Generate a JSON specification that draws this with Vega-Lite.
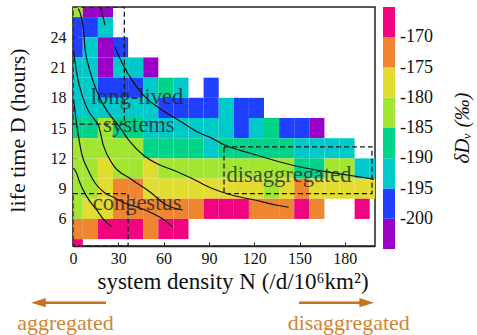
{
  "$schema": "https://vega.github.io/schema/vega-lite/v6.json",
  "width": 302,
  "height": 239,
  "autosize": "none",
  "padding": {"left": 73, "top": 7, "right": 102, "bottom": 89},
  "background": "white",
  "config": {
    "font": "Liberation Serif",
    "view": {"stroke": "#222", "strokeWidth": 1.5},
    "axis": {"labelFontSize": 16, "titleFontSize": 22, "titleFontWeight": "normal", "labelColor": "#111", "titleColor": "#111", "domainColor": "#222", "domainWidth": 1.5, "tickColor": "#222", "grid": false, "labelFlush": false, "labelOverlap": false}
  },
  "datasets": {
    "cells": [
      {"n":-3.5,"n2":6.5,"d":26,"d2":28,"v":-182.5},{"n":6.5,"n2":16.5,"d":26,"d2":28,"v":-202.5},{"n":16.5,"n2":26.5,"d":26,"d2":28,"v":-202.5},
      {"n":-3.5,"n2":6.5,"d":24,"d2":26,"v":-197.5},{"n":6.5,"n2":16.5,"d":24,"d2":26,"v":-197.5},{"n":16.5,"n2":26.5,"d":24,"d2":26,"v":-192.5},
      {"n":-3.5,"n2":6.5,"d":22,"d2":24,"v":-197.5},{"n":6.5,"n2":16.5,"d":22,"d2":24,"v":-192.5},{"n":16.5,"n2":26.5,"d":22,"d2":24,"v":-202.5},{"n":26.5,"n2":36.5,"d":22,"d2":24,"v":-197.5},
      {"n":-3.5,"n2":6.5,"d":20,"d2":22,"v":-192.5},{"n":6.5,"n2":16.5,"d":20,"d2":22,"v":-192.5},{"n":16.5,"n2":26.5,"d":20,"d2":22,"v":-202.5},{"n":26.5,"n2":36.5,"d":20,"d2":22,"v":-192.5},{"n":36.5,"n2":46.5,"d":20,"d2":22,"v":-192.5},{"n":46.5,"n2":56.5,"d":20,"d2":22,"v":-202.5},
      {"n":-3.5,"n2":6.5,"d":18,"d2":20,"v":-192.5},{"n":6.5,"n2":16.5,"d":18,"d2":20,"v":-192.5},{"n":16.5,"n2":26.5,"d":18,"d2":20,"v":-197.5},{"n":26.5,"n2":36.5,"d":18,"d2":20,"v":-197.5},{"n":36.5,"n2":46.5,"d":18,"d2":20,"v":-197.5},{"n":46.5,"n2":56.5,"d":18,"d2":20,"v":-192.5},{"n":56.5,"n2":66.5,"d":18,"d2":20,"v":-187.5},{"n":66.5,"n2":76.5,"d":18,"d2":20,"v":-192.5},{"n":86.5,"n2":96.5,"d":18,"d2":20,"v":-197.5},
      {"n":-3.5,"n2":6.5,"d":16,"d2":18,"v":-192.5},{"n":6.5,"n2":16.5,"d":16,"d2":18,"v":-192.5},{"n":16.5,"n2":26.5,"d":16,"d2":18,"v":-192.5},{"n":26.5,"n2":36.5,"d":16,"d2":18,"v":-192.5},{"n":36.5,"n2":46.5,"d":16,"d2":18,"v":-192.5},{"n":46.5,"n2":56.5,"d":16,"d2":18,"v":-192.5},{"n":56.5,"n2":66.5,"d":16,"d2":18,"v":-197.5},{"n":66.5,"n2":76.5,"d":16,"d2":18,"v":-197.5},{"n":76.5,"n2":86.5,"d":16,"d2":18,"v":-197.5},{"n":86.5,"n2":96.5,"d":16,"d2":18,"v":-197.5},{"n":96.5,"n2":106.5,"d":16,"d2":18,"v":-192.5},{"n":106.5,"n2":116.5,"d":16,"d2":18,"v":-197.5},{"n":116.5,"n2":126.5,"d":16,"d2":18,"v":-197.5},
      {"n":-3.5,"n2":6.5,"d":14,"d2":16,"v":-187.5},{"n":6.5,"n2":16.5,"d":14,"d2":16,"v":-187.5},{"n":16.5,"n2":26.5,"d":14,"d2":16,"v":-182.5},{"n":26.5,"n2":36.5,"d":14,"d2":16,"v":-187.5},{"n":36.5,"n2":46.5,"d":14,"d2":16,"v":-187.5},{"n":46.5,"n2":56.5,"d":14,"d2":16,"v":-192.5},{"n":56.5,"n2":66.5,"d":14,"d2":16,"v":-192.5},{"n":66.5,"n2":76.5,"d":14,"d2":16,"v":-192.5},{"n":76.5,"n2":86.5,"d":14,"d2":16,"v":-192.5},{"n":86.5,"n2":96.5,"d":14,"d2":16,"v":-192.5},{"n":96.5,"n2":106.5,"d":14,"d2":16,"v":-192.5},{"n":106.5,"n2":116.5,"d":14,"d2":16,"v":-197.5},{"n":116.5,"n2":126.5,"d":14,"d2":16,"v":-192.5},{"n":126.5,"n2":136.5,"d":14,"d2":16,"v":-187.5},{"n":136.5,"n2":146.5,"d":14,"d2":16,"v":-197.5},{"n":146.5,"n2":156.5,"d":14,"d2":16,"v":-197.5},{"n":156.5,"n2":166.5,"d":14,"d2":16,"v":-202.5},
      {"n":-3.5,"n2":6.5,"d":12,"d2":14,"v":-182.5},{"n":6.5,"n2":16.5,"d":12,"d2":14,"v":-182.5},{"n":16.5,"n2":26.5,"d":12,"d2":14,"v":-182.5},{"n":26.5,"n2":36.5,"d":12,"d2":14,"v":-182.5},{"n":36.5,"n2":46.5,"d":12,"d2":14,"v":-182.5},{"n":46.5,"n2":56.5,"d":12,"d2":14,"v":-187.5},{"n":56.5,"n2":66.5,"d":12,"d2":14,"v":-187.5},{"n":66.5,"n2":76.5,"d":12,"d2":14,"v":-187.5},{"n":76.5,"n2":86.5,"d":12,"d2":14,"v":-187.5},{"n":86.5,"n2":96.5,"d":12,"d2":14,"v":-192.5},{"n":96.5,"n2":106.5,"d":12,"d2":14,"v":-187.5},{"n":106.5,"n2":116.5,"d":12,"d2":14,"v":-187.5},{"n":116.5,"n2":126.5,"d":12,"d2":14,"v":-187.5},{"n":126.5,"n2":136.5,"d":12,"d2":14,"v":-187.5},{"n":136.5,"n2":146.5,"d":12,"d2":14,"v":-187.5},{"n":146.5,"n2":156.5,"d":12,"d2":14,"v":-192.5},{"n":156.5,"n2":166.5,"d":12,"d2":14,"v":-192.5},{"n":166.5,"n2":176.5,"d":12,"d2":14,"v":-192.5},{"n":176.5,"n2":186.5,"d":12,"d2":14,"v":-192.5},
      {"n":-3.5,"n2":6.5,"d":10,"d2":12,"v":-182.5},{"n":6.5,"n2":16.5,"d":10,"d2":12,"v":-182.5},{"n":16.5,"n2":26.5,"d":10,"d2":12,"v":-177.5},{"n":26.5,"n2":36.5,"d":10,"d2":12,"v":-182.5},{"n":36.5,"n2":46.5,"d":10,"d2":12,"v":-182.5},{"n":46.5,"n2":56.5,"d":10,"d2":12,"v":-177.5},{"n":56.5,"n2":66.5,"d":10,"d2":12,"v":-182.5},{"n":66.5,"n2":76.5,"d":10,"d2":12,"v":-182.5},{"n":76.5,"n2":86.5,"d":10,"d2":12,"v":-182.5},{"n":86.5,"n2":96.5,"d":10,"d2":12,"v":-182.5},{"n":96.5,"n2":106.5,"d":10,"d2":12,"v":-182.5},{"n":106.5,"n2":116.5,"d":10,"d2":12,"v":-182.5},{"n":116.5,"n2":126.5,"d":10,"d2":12,"v":-182.5},{"n":126.5,"n2":136.5,"d":10,"d2":12,"v":-182.5},{"n":136.5,"n2":146.5,"d":10,"d2":12,"v":-182.5},{"n":146.5,"n2":156.5,"d":10,"d2":12,"v":-187.5},{"n":156.5,"n2":166.5,"d":10,"d2":12,"v":-187.5},{"n":166.5,"n2":176.5,"d":10,"d2":12,"v":-182.5},{"n":176.5,"n2":186.5,"d":10,"d2":12,"v":-182.5},{"n":186.5,"n2":196.5,"d":10,"d2":12,"v":-192.5},{"n":196.5,"n2":206.5,"d":10,"d2":12,"v":-192.5},
      {"n":-3.5,"n2":6.5,"d":8,"d2":10,"v":-182.5},{"n":6.5,"n2":16.5,"d":8,"d2":10,"v":-182.5},{"n":16.5,"n2":26.5,"d":8,"d2":10,"v":-177.5},{"n":26.5,"n2":36.5,"d":8,"d2":10,"v":-172.5},{"n":36.5,"n2":46.5,"d":8,"d2":10,"v":-172.5},{"n":46.5,"n2":56.5,"d":8,"d2":10,"v":-177.5},{"n":56.5,"n2":66.5,"d":8,"d2":10,"v":-177.5},{"n":66.5,"n2":76.5,"d":8,"d2":10,"v":-177.5},{"n":76.5,"n2":86.5,"d":8,"d2":10,"v":-177.5},{"n":86.5,"n2":96.5,"d":8,"d2":10,"v":-177.5},{"n":96.5,"n2":106.5,"d":8,"d2":10,"v":-177.5},{"n":106.5,"n2":116.5,"d":8,"d2":10,"v":-177.5},{"n":116.5,"n2":126.5,"d":8,"d2":10,"v":-177.5},{"n":126.5,"n2":136.5,"d":8,"d2":10,"v":-182.5},{"n":136.5,"n2":146.5,"d":8,"d2":10,"v":-177.5},{"n":146.5,"n2":156.5,"d":8,"d2":10,"v":-172.5},{"n":156.5,"n2":166.5,"d":8,"d2":10,"v":-177.5},{"n":166.5,"n2":176.5,"d":8,"d2":10,"v":-177.5},{"n":176.5,"n2":186.5,"d":8,"d2":10,"v":-177.5},{"n":186.5,"n2":196.5,"d":8,"d2":10,"v":-177.5},{"n":196.5,"n2":206.5,"d":8,"d2":10,"v":-177.5},
      {"n":-3.5,"n2":6.5,"d":6,"d2":8,"v":-182.5},{"n":6.5,"n2":16.5,"d":6,"d2":8,"v":-177.5},{"n":16.5,"n2":26.5,"d":6,"d2":8,"v":-177.5},{"n":26.5,"n2":36.5,"d":6,"d2":8,"v":-172.5},{"n":36.5,"n2":46.5,"d":6,"d2":8,"v":-172.5},{"n":46.5,"n2":56.5,"d":6,"d2":8,"v":-172.5},{"n":56.5,"n2":66.5,"d":6,"d2":8,"v":-172.5},{"n":66.5,"n2":76.5,"d":6,"d2":8,"v":-172.5},{"n":76.5,"n2":86.5,"d":6,"d2":8,"v":-172.5},{"n":86.5,"n2":96.5,"d":6,"d2":8,"v":-168},{"n":96.5,"n2":106.5,"d":6,"d2":8,"v":-168},{"n":106.5,"n2":116.5,"d":6,"d2":8,"v":-168},{"n":116.5,"n2":126.5,"d":6,"d2":8,"v":-172.5},{"n":126.5,"n2":136.5,"d":6,"d2":8,"v":-172.5},{"n":136.5,"n2":146.5,"d":6,"d2":8,"v":-172.5},{"n":146.5,"n2":156.5,"d":6,"d2":8,"v":-168},{"n":156.5,"n2":166.5,"d":6,"d2":8,"v":-172.5},{"n":186.5,"n2":196.5,"d":6,"d2":8,"v":-168},
      {"n":-3.5,"n2":6.5,"d":4,"d2":6,"v":-172.5},{"n":6.5,"n2":16.5,"d":4,"d2":6,"v":-172.5},{"n":16.5,"n2":26.5,"d":4,"d2":6,"v":-168},{"n":26.5,"n2":36.5,"d":4,"d2":6,"v":-168},{"n":36.5,"n2":46.5,"d":4,"d2":6,"v":-168},{"n":46.5,"n2":56.5,"d":4,"d2":6,"v":-172.5},{"n":56.5,"n2":66.5,"d":4,"d2":6,"v":-168},{"n":66.5,"n2":76.5,"d":4,"d2":6,"v":-168},
      {"n":-3.5,"n2":6.5,"d":2,"d2":4,"v":-168}
    ],
    "lines": [
      {"id":"A1","n":18.3,"d":26.94},{"id":"A1","n":21.2,"d":25.2},
      {"id":"A2","n":27.8,"d":23.04},{"id":"A2","n":33.25,"d":21.23},{"id":"A2","n":39.85,"d":19.58},{"id":"A2","n":48.7,"d":17.94},{"id":"A2","n":57.5,"d":16.95},{"id":"A2","n":66.2,"d":16.12},{"id":"A2","n":74.0,"d":15.4},{"id":"A2","n":83.9,"d":14.51},{"id":"A2","n":91.8,"d":14.01},{"id":"A2","n":100.4,"d":13.32},{"id":"A2","n":116.9,"d":12.53},{"id":"A2","n":134.7,"d":11.74},{"id":"A2","n":149.8,"d":11.17},{"id":"A2","n":167.6,"d":10.68},{"id":"A2","n":182.8,"d":10.33},{"id":"A2","n":199.3,"d":9.93},
      {"id":"B","n":3.56,"d":26.84},{"id":"B","n":6.86,"d":24.86},{"id":"B","n":7.98,"d":22.88},{"id":"B","n":10.16,"d":21.23},{"id":"B","n":13.46,"d":19.58},{"id":"B","n":17.88,"d":17.94},{"id":"B","n":24.48,"d":16.29},{"id":"B","n":29.96,"d":15.3},{"id":"B","n":37.7,"d":13.65},{"id":"B","n":46.45,"d":12.33},{"id":"B","n":57.5,"d":11.34},{"id":"B","n":65.3,"d":10.9},{"id":"B","n":78.5,"d":10.03},{"id":"B","n":91.8,"d":9.04},{"id":"B","n":104.97,"d":8.37},{"id":"B","n":120.3,"d":7.88},{"id":"B","n":134.6,"d":7.38},{"id":"B","n":142.8,"d":7.16},
      {"id":"C","n":0.26,"d":22.72},{"id":"C","n":2.71,"d":20.24},{"id":"C","n":6.0,"d":18.27},{"id":"C","n":9.96,"d":16.78},{"id":"C","n":14.58,"d":15.79},{"id":"C","n":16.76,"d":15.3},{"id":"C","n":20.06,"d":13.32},{"id":"C","n":26.66,"d":11.34},{"id":"C","n":37.67,"d":10.03},{"id":"C","n":50.87,"d":8.7},{"id":"C","n":61.89,"d":7.38},{"id":"C","n":67.36,"d":7.06},{"id":"C","n":72.84,"d":6.89},
      {"id":"E","n":0.4,"d":17.77},{"id":"E","n":2.05,"d":15.79},{"id":"E","n":4.03,"d":13.81},{"id":"E","n":6.0,"d":12.33},{"id":"E","n":9.96,"d":10.85},{"id":"E","n":14.58,"d":9.56},{"id":"E","n":21.18,"d":8.57},{"id":"E","n":27.78,"d":8.08},{"id":"E","n":35.7,"d":7.48},{"id":"E","n":44.27,"d":7.09},{"id":"E","n":52.19,"d":6.59},{"id":"E","n":59.45,"d":6.0},{"id":"E","n":66.05,"d":5.21},
      {"id":"F","n":0.26,"d":11.04},{"id":"F","n":2.05,"d":10.65},{"id":"F","n":4.68,"d":9.53},{"id":"F","n":9.11,"d":8.21},{"id":"F","n":15.7,"d":6.89},{"id":"F","n":20.52,"d":5.9},{"id":"F","n":25.6,"d":5.24}
    ],
    "boxes": [
      {"n":0,"n2":34,"d":15.4,"d2":27},
      {"n":0,"n2":36.5,"d":3.32,"d2":8.5},
      {"n":100,"n2":198,"d":8.5,"d2":13.15}
    ],
    "labels": [
      {"n":42.4,"d":18.08,"t":"long-lived"},
      {"n":43.7,"d":15.31,"t":"systems"},
      {"n":42.4,"d":7.58,"t":"congestus"},
      {"n":143.0,"d":10.35,"t":"disaggregated"}
    ],
    "arrows": [
      {"n":-22.9,"n2":21.85,"d":-2.3},
      {"n":149.7,"n2":194.5,"d":-2.3}
    ],
    "heads": [
      {"n":-22.9,"d":-2.3,"dir":"left"},
      {"n":194.5,"d":-2.3,"dir":"right"}
    ],
    "arrowlabels": [
      {"n":-4.97,"d":-4.31,"t":"aggregated"},
      {"n":182.6,"d":-4.31,"t":"disaggregated"}
    ]
  },
  "encoding": {
    "x": {"field": "n", "type": "quantitative", "scale": {"domain": [0, 200], "nice": false, "zero": false},
      "axis": {"values": [0, 30, 60, 90, 120, 150, 180], "title": "system density N (/d/10⁶km²)", "titleFontSize": 23, "tickSize": -4, "labelPadding": 8, "titlePadding": 4, "titleX": 159.5}},
    "y": {"field": "d", "type": "quantitative", "scale": {"domain": [3.32, 27], "nice": false, "zero": false},
      "axis": {"values": [6, 9, 12, 15, 18, 21, 24], "title": "life time D (hours)", "tickSize": -4, "labelPadding": 11, "titlePadding": 21, "titleY": 123}}
  },
  "layer": [
    {"data": {"name": "cells"}, "mark": {"type": "rect", "clip": true},
      "encoding": {"x2": {"field": "n2"}, "y2": {"field": "d2"},
        "color": {"field": "v", "type": "quantitative",
          "scale": {"type": "threshold", "domain": [-200, -195, -190, -185, -180, -175, -170], "range": ["#9A00C8", "#1F40FF", "#00C9C9", "#00D38A", "#A3E632", "#E3DC30", "#EF8530", "#F0047F"]},
          "legend": {"type": "gradient", "orient": "right", "offset": 8, "gradientLength": 242, "gradientThickness": 12, "gradientStrokeWidth": 0, "labelFontSize": 18, "labelOffset": 5, "labelColor": "#111", "labelExpr": "datum.label ? replace(datum.label, '−', '-') : ''", "title": "δDᵥ (‰)", "titleFontSize": 21, "titleFontWeight": "normal", "titleFontStyle": "italic", "titleColor": "#111", "titleOrient": "right", "titleAnchor": "middle", "titlePadding": 19,
            "encode": {"title": {"update": {"angle": {"value": -90}, "baseline": {"value": "top"}}}}}}}},
    {"data": {"name": "lines"}, "mark": {"type": "line", "clip": true, "color": "#111", "strokeWidth": 1.2, "interpolate": "monotone"},
      "encoding": {"detail": {"field": "id"}}},
    {"data": {"name": "boxes"}, "mark": {"type": "rect", "filled": false, "stroke": "#1a1a1a", "strokeWidth": 1.3, "strokeDash": [5, 3], "clip": true},
      "encoding": {"x2": {"field": "n2"}, "y2": {"field": "d2"}}},
    {"data": {"name": "labels"}, "mark": {"type": "text", "fontSize": 22.5, "color": "#262626", "opacity": 0.8},
      "encoding": {"text": {"field": "t"}}},
    {"data": {"name": "arrows"}, "mark": {"type": "rule", "color": "#C8711E", "strokeWidth": 2.5},
      "encoding": {"x2": {"field": "n2"}}},
    {"data": {"name": "heads"}, "mark": {"type": "point", "filled": true, "color": "#C8711E", "size": 216, "opacity": 1},
      "encoding": {"shape": {"field": "dir", "type": "nominal", "scale": {"domain": ["left", "right"], "range": ["M-1,0L1,-0.63L1,0.63Z", "M1,0L-1,-0.63L-1,0.63Z"]}, "legend": null}}},
    {"data": {"name": "arrowlabels"}, "mark": {"type": "text", "fontSize": 22, "color": "#D38535"},
      "encoding": {"text": {"field": "t"}}}
  ]
}
